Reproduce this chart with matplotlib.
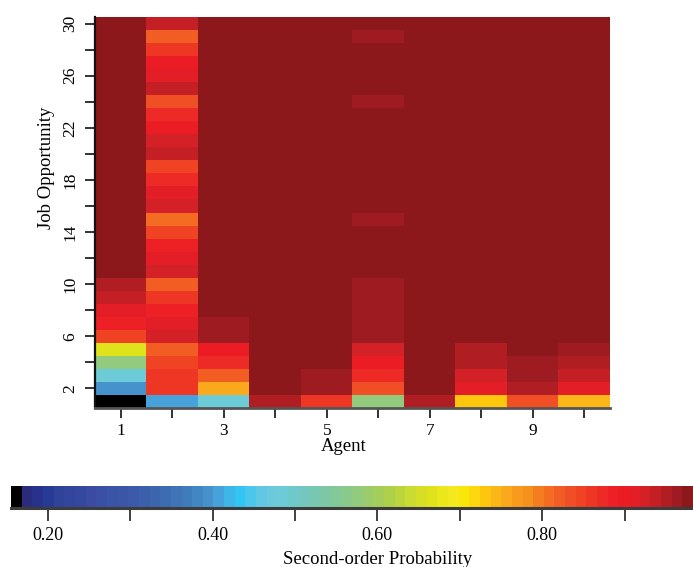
import numpy as np
import matplotlib
matplotlib.use("Agg")
import matplotlib.pyplot as plt
from matplotlib.colors import ListedColormap

plt.rcParams['font.family'] = ['Liberation Serif', 'DejaVu Serif']

# second-order probability per agent, job opportunity 1 (bottom) .. 30 (top)
agent1 = [0.16, 0.394, 0.485, 0.576, 0.667, 0.848, 0.887, 0.912, 0.938, 0.951,
          0.977, 0.977, 0.977, 0.977, 0.977, 0.977, 0.977, 0.977, 0.977, 0.977,
          0.977, 0.977, 0.977, 0.977, 0.977, 0.977, 0.977, 0.977, 0.977, 0.977]
agent2 = [0.407, 0.861, 0.861, 0.848, 0.822, 0.925, 0.912, 0.887, 0.861, 0.822,
          0.925, 0.912, 0.887, 0.848, 0.809, 0.925, 0.912, 0.874, 0.848, 0.938,
          0.925, 0.899, 0.874, 0.835, 0.938, 0.912, 0.899, 0.861, 0.822, 0.938]
agent3 = [0.485, 0.757, 0.822, 0.874, 0.899, 0.964, 0.964, 0.977, 0.977, 0.977,
          0.977, 0.977, 0.977, 0.977, 0.977, 0.977, 0.977, 0.977, 0.977, 0.977,
          0.977, 0.977, 0.977, 0.977, 0.977, 0.977, 0.977, 0.977, 0.977, 0.977]
agent4 = [0.951, 0.977, 0.977, 0.977, 0.977, 0.977, 0.977, 0.977, 0.977, 0.977,
          0.977, 0.977, 0.977, 0.977, 0.977, 0.977, 0.977, 0.977, 0.977, 0.977,
          0.977, 0.977, 0.977, 0.977, 0.977, 0.977, 0.977, 0.977, 0.977, 0.977]
agent5 = [0.861, 0.964, 0.964, 0.977, 0.977, 0.977, 0.977, 0.977, 0.977, 0.977,
          0.977, 0.977, 0.977, 0.977, 0.977, 0.977, 0.977, 0.977, 0.977, 0.977,
          0.977, 0.977, 0.977, 0.977, 0.977, 0.977, 0.977, 0.977, 0.977, 0.977]
agent6 = [0.576, 0.835, 0.874, 0.899, 0.925, 0.964, 0.964, 0.964, 0.964, 0.964,
          0.977, 0.977, 0.977, 0.977, 0.964, 0.977, 0.977, 0.977, 0.977, 0.977,
          0.977, 0.977, 0.977, 0.964, 0.977, 0.977, 0.977, 0.977, 0.964, 0.977]
agent7 = [0.951, 0.977, 0.977, 0.977, 0.977, 0.977, 0.977, 0.977, 0.977, 0.977,
          0.977, 0.977, 0.977, 0.977, 0.977, 0.977, 0.977, 0.977, 0.977, 0.977,
          0.977, 0.977, 0.977, 0.977, 0.977, 0.977, 0.977, 0.977, 0.977, 0.977]
agent8 = [0.731, 0.912, 0.925, 0.951, 0.951, 0.977, 0.977, 0.977, 0.977, 0.977,
          0.977, 0.977, 0.977, 0.977, 0.977, 0.977, 0.977, 0.977, 0.977, 0.977,
          0.977, 0.977, 0.977, 0.977, 0.977, 0.977, 0.977, 0.977, 0.977, 0.977]
agent9 = [0.835, 0.951, 0.964, 0.964, 0.977, 0.977, 0.977, 0.977, 0.977, 0.977,
          0.977, 0.977, 0.977, 0.977, 0.977, 0.977, 0.977, 0.977, 0.977, 0.977,
          0.977, 0.977, 0.977, 0.977, 0.977, 0.977, 0.977, 0.977, 0.977, 0.977]
agent10 = [0.744, 0.912, 0.938, 0.951, 0.964, 0.977, 0.977, 0.977, 0.977, 0.977,
           0.977, 0.977, 0.977, 0.977, 0.977, 0.977, 0.977, 0.977, 0.977, 0.977,
           0.977, 0.977, 0.977, 0.977, 0.977, 0.977, 0.977, 0.977, 0.977, 0.977]

x_labels = ['1', '3', '5', '7', '9']
y_labels = ['2', '6', '10', '14', '18', '22', '26', '30']
cb_ticks = [0.2, 0.3, 0.4, 0.5, 0.6, 0.7, 0.8, 0.9]
cb_labels = ['0.20', '', '0.40', '', '0.60', '', '0.80', '']

palette = ['#000000',
           '#2b2b7d', '#28318b', '#263a96', '#2f4399', '#34469c', '#3548a0', '#3a4ba1',
           '#3a50a4', '#3a54a6', '#3b56a7', '#3c5aa9', '#3c5fab', '#3d65ae', '#3e6cb2',
           '#3f74b6', '#3f7cbc', '#4287c4', '#4692cc', '#47a2db', '#3eb6e8', '#31c6f2',
           '#4cc6ea', '#60c8e2', '#6ac9da', '#6ccbd6', '#6ec9ca', '#74c7be', '#78c7b0',
           '#7dc7a4', '#82c898', '#8ac98c', '#92ca7e', '#9ccb6c', '#a4cd5a', '#afd04a',
           '#bdd53c', '#cadb32', '#d6df26', '#e0e31c', '#ece71a', '#f4e91e', '#f9e70a',
           '#fed80e', '#fec70e', '#fbb617', '#f9a91b', '#f89b1d', '#f6911e', '#f47d20',
           '#f36c22', '#f15d23', '#f04e24', '#ef4324', '#ee3625', '#ed2a26', '#ed2026',
           '#ec1c24', '#e31e26', '#d42127', '#c41f25', '#b01e24', '#9e1b21', '#8c181b']
cmap = ListedColormap(palette)

data = np.array([agent1, agent2, agent3, agent4, agent5,
                 agent6, agent7, agent8, agent9, agent10]).T

fig = plt.figure(figsize=(6.93, 5.67), dpi=100)
ax = fig.add_axes([95 / 693, 1 - 408 / 567, 515 / 693, 391 / 567])
im = ax.imshow(data, origin='lower', extent=(0.5, 10.5, 0.5, 30.5), aspect='auto',
               cmap=cmap, vmin=0.1553, vmax=0.983, interpolation='nearest')

ax.set_xlim(0.5, 10.5)
ax.set_ylim(0.5, 30.5)
ax.set_xticks([1, 3, 5, 7, 9], x_labels)
ax.set_xticks([2, 4, 6, 8, 10], minor=True)
ax.set_yticks([2, 6, 10, 14, 18, 22, 26, 30], y_labels)
ax.set_yticks([4, 8, 12, 16, 20, 24, 28], minor=True)
ax.tick_params(which='both', direction='out', length=7, width=1.3, color='#222222',
               labelsize=12.5, pad=4)
ax.tick_params(axis='y', labelrotation=90, pad=5)
for lab in ax.get_yticklabels():
    lab.set_va('center')

for s in ['top', 'right']:
    ax.spines[s].set_visible(False)
ax.spines['left'].set_linewidth(1.6)
ax.spines['left'].set_color('#111111')
ax.spines['bottom'].set_linewidth(2)
ax.spines['bottom'].set_color('#555555')

ax.set_xlabel('Agent', fontsize=13.5)
ax.xaxis.set_label_coords(0.483, -0.078)
ax.set_ylabel('Job Opportunity', fontsize=13.5)
ax.yaxis.set_label_coords(-0.078, 0.615)

cax = fig.add_axes([11 / 693, 1 - 508 / 567, 682 / 693, 22 / 567])
cb = fig.colorbar(im, cax=cax, orientation='horizontal')
cb.outline.set_visible(False)
cb.set_ticks(cb_ticks, labels=cb_labels)
cax.tick_params(length=9.5, width=1.3, color='#333333', labelsize=13, pad=4)
cax.axhline(0, color='#3c3c3c', lw=2.2, clip_on=False)
cax.set_xlabel('Second-order Probability', fontsize=13.5)
cax.xaxis.set_label_coords(0.537, -1.95)

fig.savefig('out.png', dpi=100)
